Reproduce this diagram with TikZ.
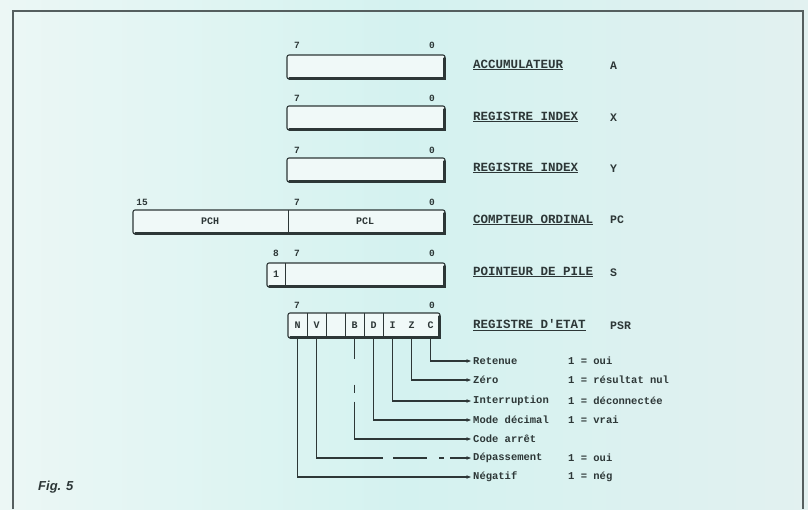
\documentclass[tikz,border=0pt]{standalone}
\usepackage{fontspec}
\setmainfont{Liberation Sans}
\newfontfamily\monof{Liberation Mono}
\usetikzlibrary{arrows.meta}
\definecolor{ink}{RGB}{45,55,55}
\definecolor{framec}{RGB}{85,95,95}
\definecolor{bgL}{RGB}{236,247,245}
\definecolor{bgM}{RGB}{212,242,240}
\definecolor{bgR}{RGB}{226,241,240}
\definecolor{boxfill}{RGB}{240,249,248}
\begin{document}
\begin{tikzpicture}[x=1pt,y=-1pt,
  regbox/.style={draw=ink, line width=1.1pt, rounded corners=2pt, fill=boxfill, inner sep=0pt},
  shadeline/.style={draw=ink, line width=3pt, line cap=round},
  bitnum/.style={font=\monof\bfseries\fontsize{9.5}{10}\selectfont, text=ink, inner sep=0.5pt},
  cellchar/.style={font=\monof\bfseries\fontsize{10}{11}\selectfont, text=ink, inner sep=0.5pt},
  regname/.style={font=\monof\bfseries\fontsize{12.5}{14}\selectfont, text=ink, anchor=west, inner sep=0pt},
  regsym/.style={font=\monof\bfseries\fontsize{11.5}{12}\selectfont, text=ink, anchor=west, inner sep=0pt},
  flaglbl/.style={font=\monof\bfseries\fontsize{10.5}{12}\selectfont, text=ink, anchor=west, inner sep=2pt},
  divline/.style={draw=ink, line width=0.9pt},
  flagline/.style={draw=ink, line width=1.1pt, -{Stealth[length=4.5pt,width=3.5pt]}}
]
\useasboundingbox (0,0) rectangle (808,509);
\shade[left color=bgL, right color=bgR, middle color=bgM] (0,0) rectangle (808,509);
% frame
\draw[framec, line width=1.4pt] (13,509) -- (13,11) -- (803,11) -- (803,509);

% ---------- Accumulator ----------
\node[regbox, minimum width=158pt, minimum height=24pt] (acc) at (366,67) {};
\draw[shadeline] ([xshift=-1.2pt,yshift=-4pt]acc.north east) -- ([xshift=-1.2pt,yshift=1.2pt]acc.south east) -- ([xshift=3pt,yshift=1.2pt]acc.south west);
\node[bitnum] (acc7) at (297,45) {7};
\node[bitnum] (acc0) at (432,45) {0};
\node[regname] (accn) at (473,65) {\underline{ACCUMULATEUR}};
\node[regsym] (accs) at (610,66) {A};

% ---------- Index X ----------
\node[regbox, minimum width=158pt, minimum height=24pt] (rx) at (366,118) {};
\draw[shadeline] ([xshift=-1.2pt,yshift=-4pt]rx.north east) -- ([xshift=-1.2pt,yshift=1.2pt]rx.south east) -- ([xshift=3pt,yshift=1.2pt]rx.south west);
\node[bitnum] (rx7) at (297,98) {7};
\node[bitnum] (rx0) at (432,98) {0};
\node[regname] (rxn) at (473,117) {\underline{REGISTRE INDEX}};
\node[regsym] (rxs) at (610,118) {X};

% ---------- Index Y ----------
\node[regbox, minimum width=158pt, minimum height=24pt] (ry) at (366,170) {};
\draw[shadeline] ([xshift=-1.2pt,yshift=-4pt]ry.north east) -- ([xshift=-1.2pt,yshift=1.2pt]ry.south east) -- ([xshift=3pt,yshift=1.2pt]ry.south west);
\node[bitnum] (ry7) at (297,150) {7};
\node[bitnum] (ry0) at (432,150) {0};
\node[regname] (ryn) at (473,168) {\underline{REGISTRE INDEX}};
\node[regsym] (rys) at (610,169) {Y};

% ---------- Program counter ----------
\node[regbox, minimum width=312pt, minimum height=24pt] (pc) at (289,222) {};
\draw[shadeline] ([xshift=-1.2pt,yshift=-4pt]pc.north east) -- ([xshift=-1.2pt,yshift=1.2pt]pc.south east) -- ([xshift=3pt,yshift=1.2pt]pc.south west);
\draw[divline] (288,210) -- (288,234);
\node[bitnum] (pc15) at (142,202) {15};
\node[bitnum] (pc7) at (297,202) {7};
\node[bitnum] (pc0) at (432,202) {0};
\node[cellchar] (pch) at (210,221) {PCH};
\node[cellchar] (pcl) at (365,221) {PCL};
\node[regname] (pcn) at (473,220) {\underline{COMPTEUR ORDINAL}};
\node[regsym] (pcs) at (610,220) {PC};

% ---------- Stack pointer ----------
\node[regbox, minimum width=178pt, minimum height=24pt] (sp) at (356,275) {};
\draw[shadeline] ([xshift=-1.2pt,yshift=-4pt]sp.north east) -- ([xshift=-1.2pt,yshift=1.2pt]sp.south east) -- ([xshift=3pt,yshift=1.2pt]sp.south west);
\draw[divline] (285,263) -- (285,287);
\node[cellchar] (sp1) at (276,274) {1};
\node[bitnum] (sp8) at (276,253) {8};
\node[bitnum] (sp7) at (297,253) {7};
\node[bitnum] (sp0) at (432,253) {0};
\node[regname] (spn) at (473,272) {\underline{POINTEUR DE PILE}};
\node[regsym] (sps) at (610,273) {S};

% ---------- Status register ----------
\node[regbox, minimum width=152pt, minimum height=25pt] (psr) at (364,325.5) {};
\draw[shadeline] ([xshift=-1.2pt,yshift=-4pt]psr.north east) -- ([xshift=-1.2pt,yshift=1.2pt]psr.south east) -- ([xshift=3pt,yshift=1.2pt]psr.south west);
\foreach \xx in {307,326,345,364} \draw[divline] (\xx,313) -- (\xx,338);
\draw[divline, line width=0.6pt] (383,313) -- (383,338);
\node[bitnum] (psr7) at (297,305) {7};
\node[bitnum] (psr0) at (432,305) {0};
\node[cellchar] (fN) at (297.5,325) {N};
\node[cellchar] (fV) at (316.5,325) {V};
\node[cellchar] (fB) at (354.5,325) {B};
\node[cellchar] (fD) at (373.5,325) {D};
\node[cellchar] (fI) at (392.5,325) {I};
\node[cellchar] (fZ) at (411.5,325) {Z};
\node[cellchar] (fC) at (430.5,325) {C};
\node[regname] (psrn) at (473,325) {\underline{REGISTRE D'ETAT}};
\node[regsym] (psrs) at (610,326) {PSR};

% ---------- Flag labels ----------
\node[flaglbl] (lC) at (471,361) {Retenue};
\node[flaglbl] (lZ) at (471,380) {Zéro};
\node[flaglbl] (lI) at (471,401) {Interruption};
\node[flaglbl] (lD) at (471,420) {Mode décimal};
\node[flaglbl] (lB) at (471,439) {Code arrêt};
\node[flaglbl] (lV) at (471,458) {Dépassement};
\node[flaglbl] (lN) at (471,477) {Négatif};

\node[flaglbl] (vC) at (566,361) {1 = oui};
\node[flaglbl] (vZ) at (566,380) {1 = résultat nul};
\node[flaglbl] (vI) at (566,401) {1 = déconnectée};
\node[flaglbl] (vD) at (566,420) {1 = vrai};
\node[flaglbl] (vV) at (566,458) {1 = oui};
\node[flaglbl] (vN) at (566,477) {1 = nég};

% ---------- Flag connectors ----------
\draw[flagline] (fC |- psr.south) |- (lC.west);
\draw[flagline] (fZ |- psr.south) |- (lZ.west);
\draw[flagline] (fI |- psr.south) |- (lI.west);
\draw[flagline] (fD |- psr.south) |- (lD.west);
\draw[flagline, dash pattern=on 20pt off 26pt on 8pt off 9pt on 300pt] (fB |- psr.south) |- (lB.west);
\draw[flagline, dash pattern=on 186pt off 10pt on 34pt off 12pt on 5pt off 6pt on 30pt] (fV |- psr.south) |- (lV.west);
\draw[flagline] (fN |- psr.south) |- (lN.west);

% ---------- Caption ----------
\node[font=\bfseries\itshape\fontsize{13}{15}\selectfont, text=ink, anchor=west, inner sep=0pt] (fig) at (38,487) {Fig. 5};
\end{tikzpicture}
\end{document}
